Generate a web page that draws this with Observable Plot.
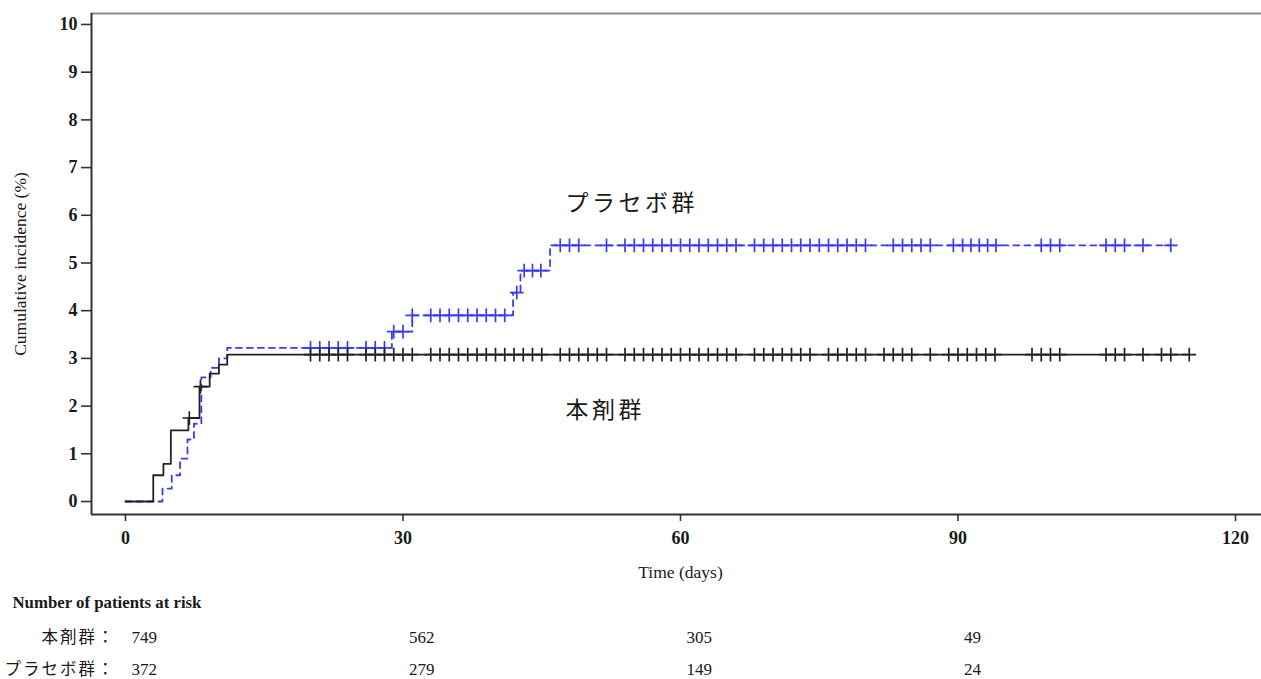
<!DOCTYPE html>
<html><head><meta charset="utf-8">
<script src="https://cdn.jsdelivr.net/npm/d3@7"></script>
<script src="https://cdn.jsdelivr.net/npm/@observablehq/plot@0.6"></script>
<style>
body{margin:0;background:#fff;}
g[aria-label="y-axis tick label"] text, g[aria-label="x-axis tick label"] text{font-weight:bold;}
</style>
</head><body><div id="chart"></div>
<script>
// ---- data ----
const xTicks = [0, 30, 60, 90, 120];
const yTicks = [0, 1, 2, 3, 4, 5, 6, 7, 8, 9, 10];
const drugName = "本剤群";
const placeboName = "プラセボ群";

// 本剤群 (solid black) step function: jump times and cumulative incidence (%)
const drugStepT = [0, 3.0, 4.1, 4.9, 6.8, 8.0, 9.1, 10.1, 11.0, 115];
const drugStepV = [0, 0.55, 0.79, 1.49, 1.75, 2.41, 2.68, 2.87, 3.08, 3.08];
const drugCensorT = [6.9, 8.1,
  20, 21, 22, 23, 24, 26, 27, 28, 29, 30, 31,
  33, 34, 35, 36, 37, 38, 39, 40, 41, 42, 43, 44, 45,
  47, 48, 49, 50, 51, 52,
  54, 55, 56, 57, 58, 59, 60, 61, 62, 63, 64, 65, 66,
  68, 69, 70, 71, 72, 73, 74,
  76, 77, 78, 79, 80,
  82, 83, 84, 85, 87,
  89, 90, 91, 92, 93, 94,
  98, 99, 100, 101,
  106, 107, 108, 110, 112, 113, 115];

// プラセボ群 (dashed blue) step function
const placeboStepT = [0, 4.0, 5.0, 5.9, 6.7, 7.4, 8.2, 9.2, 10.1, 11.0, 28.8, 31.0, 41.9, 42.7, 45.9, 113];
const placeboStepV = [0, 0.27, 0.55, 0.9, 1.3, 1.63, 2.6, 2.8, 3.0, 3.22, 3.56, 3.9, 4.38, 4.84, 5.37, 5.37];
const placeboCensorT = [
  20, 21, 22, 23, 24, 26, 27, 28,
  29, 30,
  31, 33, 34, 35, 36, 37, 38, 39, 40, 41,
  42.3,
  43.1, 44, 44.9,
  47, 48, 49, 52,
  54, 55, 56, 57, 58, 59, 60, 61, 62, 63, 64, 65, 66,
  68, 69, 70, 71, 72, 73, 74, 75, 76, 77, 78, 79, 80,
  83, 84, 85, 86, 87,
  89.5, 90.5, 91.4, 92.3, 93.2, 94.1,
  99, 100, 101,
  106, 107, 108, 110, 113];

// number of patients at risk
const riskTimes = [0, 30, 60, 90];
const riskDrug = [749, 562, 305, 49];
const riskPlacebo = [372, 279, 149, 24];

// ---- build tables ----
const levelAt = (T, V, t) => { let v = V[0]; for (let i = 0; i < T.length; i++) if (T[i] <= t + 1e-9) v = V[i]; return v; };
const drugLine = drugStepT.map((t, i) => ({t, v: drugStepV[i]}));
const placeboLine = placeboStepT.map((t, i) => ({t, v: placeboStepV[i]}));
const drugCensor = drugCensorT.map(t => ({t, v: levelAt(drugStepT, drugStepV, t)}));
const placeboCensor = placeboCensorT.map(t => ({t, v: levelAt(placeboStepT, placeboStepV, t)}));
const riskRows1 = riskTimes.map((t, i) => ({t, n: riskDrug[i]}));
const riskRows2 = riskTimes.map((t, i) => ({t, n: riskPlacebo[i]}));

const serif = "'Liberation Serif', 'Times New Roman', serif";
const cjk = "'Noto Sans CJK JP', 'Noto Sans CJK SC', sans-serif";
const xMin = -3.676, xMax = 122.81, yMin = -0.2725, yMax = 10.23;
const blue = "#3b3bf2";
const ink = "#1a1a1a";

const chart = Plot.plot({
  width: 1261, height: 679,
  marginLeft: 91, marginRight: 0, marginTop: 13, marginBottom: 165,
  x: {domain: [xMin, xMax]},
  y: {domain: [yMin, yMax]},
  style: {background: "#fff", fontFamily: serif, color: ink},
  marks: [
    Plot.ruleY([yMax], {stroke: "#8a8a8a", strokeWidth: 2}),
    Plot.ruleY([yMin], {stroke: "#333", strokeWidth: 2}),
    Plot.ruleX([xMin], {stroke: "#333", strokeWidth: 2}),
    Plot.line(placeboLine, {x: "t", y: "v", curve: "step-after", stroke: blue, strokeWidth: 1.8, strokeDasharray: "6,5"}),
    Plot.line(drugLine, {x: "t", y: "v", curve: "step-after", stroke: "#222", strokeWidth: 1.8}),
    Plot.dot(placeboCensor, {x: "t", y: "v", symbol: "plus", r: 4.5, stroke: blue, strokeWidth: 1.7}),
    Plot.dot(drugCensor, {x: "t", y: "v", symbol: "plus", r: 4.5, stroke: "#222", strokeWidth: 1.7}),
    Plot.axisY({ticks: yTicks, tickSize: 10, tickPadding: 4, fontSize: 18, label: null, stroke: "#333", strokeWidth: 1.6, tickFormat: d => String(d)}),
    Plot.axisX({ticks: xTicks, tickSize: 7, tickPadding: 10, fontSize: 18, label: null, stroke: "#333", strokeWidth: 1.6, tickFormat: d => String(d)}),
    Plot.text(["Cumulative incidence (%)"], {frameAnchor: "left", dx: -71, rotate: -90, textAnchor: "middle", lineAnchor: "middle", fontSize: 17.5, fill: ink}),
    Plot.text(["Time (days)"], {x: () => 60, frameAnchor: "bottom", dy: 58, textAnchor: "middle", lineAnchor: "middle", fontSize: 17.5, fill: ink}),
    Plot.text([placeboName], {x: () => 47.57, y: () => 6.25, textAnchor: "start", lineAnchor: "middle", fontSize: 23, fontFamily: cjk, fill: ink}),
    Plot.text([drugName], {x: () => 47.57, y: () => 1.91, textAnchor: "start", lineAnchor: "middle", fontSize: 23, fontFamily: cjk, fill: ink}),
    Plot.text(["Number of patients at risk"], {frameAnchor: "bottom-left", dx: -79, dy: 88, textAnchor: "start", lineAnchor: "middle", fontSize: 16.8, fontWeight: "bold", fill: ink}),
    Plot.text([drugName + "："], {frameAnchor: "bottom-left", dx: 24, dy: 123, textAnchor: "end", lineAnchor: "middle", fontSize: 16.5, fontFamily: cjk, fill: ink}),
    Plot.text([placeboName + "："], {frameAnchor: "bottom-left", dx: 24, dy: 155, textAnchor: "end", lineAnchor: "middle", fontSize: 16.5, fontFamily: cjk, fill: ink}),
    Plot.text(riskRows1, {x: "t", text: "n", frameAnchor: "bottom", dy: 123, dx: 6, textAnchor: "start", lineAnchor: "middle", fontSize: 17, fill: ink}),
    Plot.text(riskRows2, {x: "t", text: "n", frameAnchor: "bottom", dy: 155, dx: 6, textAnchor: "start", lineAnchor: "middle", fontSize: 17, fill: ink})
  ]
});
// letter spacing for the Japanese labels (Mincho-like wide setting in the reference)
chart.querySelectorAll("text").forEach(t => {
  const s = t.textContent;
  if (s === placeboName || s === drugName) t.setAttribute("letter-spacing", "3.5");
  else if (/[\u3000-\u9fff\uff00-\uffef]/.test(s)) t.setAttribute("letter-spacing", "2");
});
document.getElementById("chart").appendChild(chart);
</script>
</body></html>
